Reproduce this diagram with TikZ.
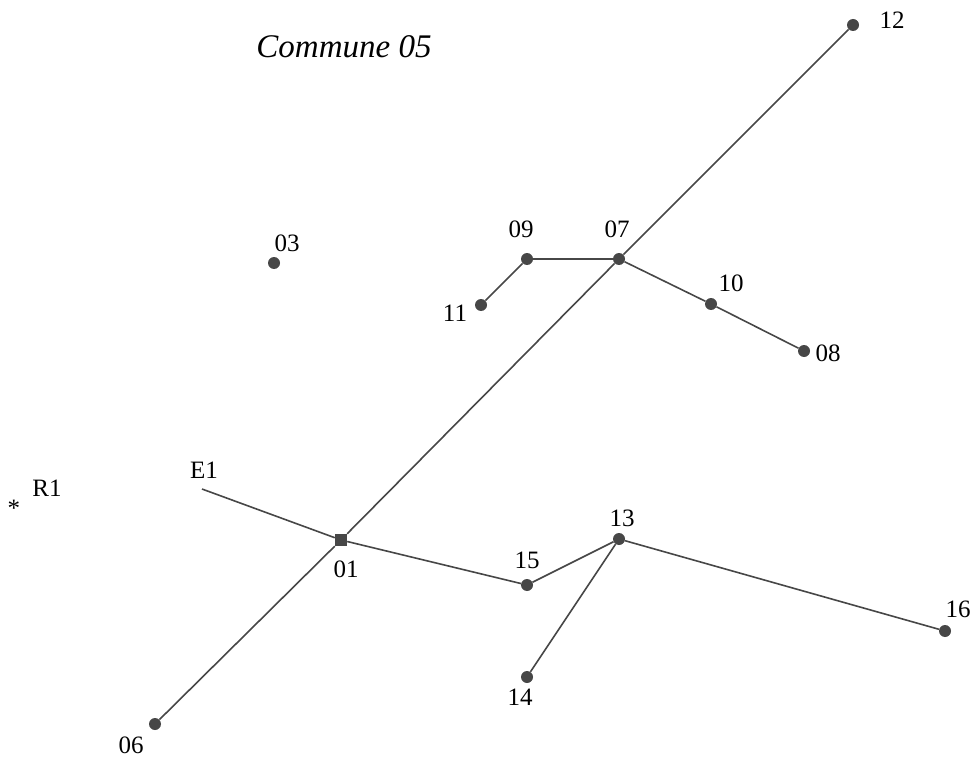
\documentclass[tikz,border=0pt]{standalone}
\usepackage{fontspec}
\setmainfont{Liberation Serif}
\begin{document}
\begin{tikzpicture}[x=1pt,y=-1pt,
  edge/.style={draw=black!72, line width=1.6pt},
  pt/.style={circle, fill=black!72, inner sep=0pt, minimum size=12pt},
  sq/.style={rectangle, fill=black!72, inner sep=0pt, minimum size=12pt},
  lbl/.style={font=\fontsize{25}{27}\selectfont, inner sep=0pt}]
\useasboundingbox (0,0) rectangle (978,765);
\node[font=\fontsize{33}{36}\selectfont\itshape, inner sep=0pt] (title) at (344,47) {Commune 05};
% points
\node[pt] (n12) at (853,25) {};
\node[pt] (n07) at (619,259) {};
\node[pt] (n09) at (527,259) {};
\node[pt] (n11) at (481,305) {};
\node[pt] (n10) at (711,304) {};
\node[pt] (n08) at (804,351) {};
\node[pt] (n03) at (274,263) {};
\node[sq] (n01) at (341,540) {};
\coordinate (e1) at (202,489);
\node[pt] (n06) at (155,724) {};
\node[pt] (n15) at (527,585) {};
\node[pt] (n13) at (619,539) {};
\node[pt] (n14) at (527,677) {};
\node[pt] (n16) at (945,631) {};
% edges
\draw[edge] (n06) -- (n01);
\draw[edge] (n01) -- (n07);
\draw[edge] (n07) -- (n12);
\draw[edge] (e1) -- (n01);
\draw[edge] (n01) -- (n15);
\draw[edge] (n15) -- (n13);
\draw[edge] (n13) -- (n14);
\draw[edge] (n13) -- (n16);
\draw[edge] (n09) -- (n07);
\draw[edge] (n09) -- (n11);
\draw[edge] (n07) -- (n10);
\draw[edge] (n10) -- (n08);
% labels
\node[lbl] (l12) at (892,20) {12};
\node[lbl] (l07) at (617,229) {07};
\node[lbl] (l09) at (521,229) {09};
\node[lbl] (l11) at (455,313) {11};
\node[lbl] (l10) at (731,283) {10};
\node[lbl] (l08) at (828,353) {08};
\node[lbl] (l03) at (287,243) {03};
\node[lbl] (l01) at (346,569) {01};
\node[lbl] (lE1) at (204,470) {E1};
\node[lbl] (lR1) at (47,488) {R1};
\node[lbl] (l06) at (131,745) {06};
\node[lbl] (l15) at (527,560) {15};
\node[lbl] (l13) at (622,518) {13};
\node[lbl] (l14) at (520,697) {14};
\node[lbl] (l16) at (958,609) {16};
\node[font=\fontsize{25}{27}\selectfont, inner sep=0pt] (r1) at (14,508) {*};
\end{tikzpicture}
\end{document}
